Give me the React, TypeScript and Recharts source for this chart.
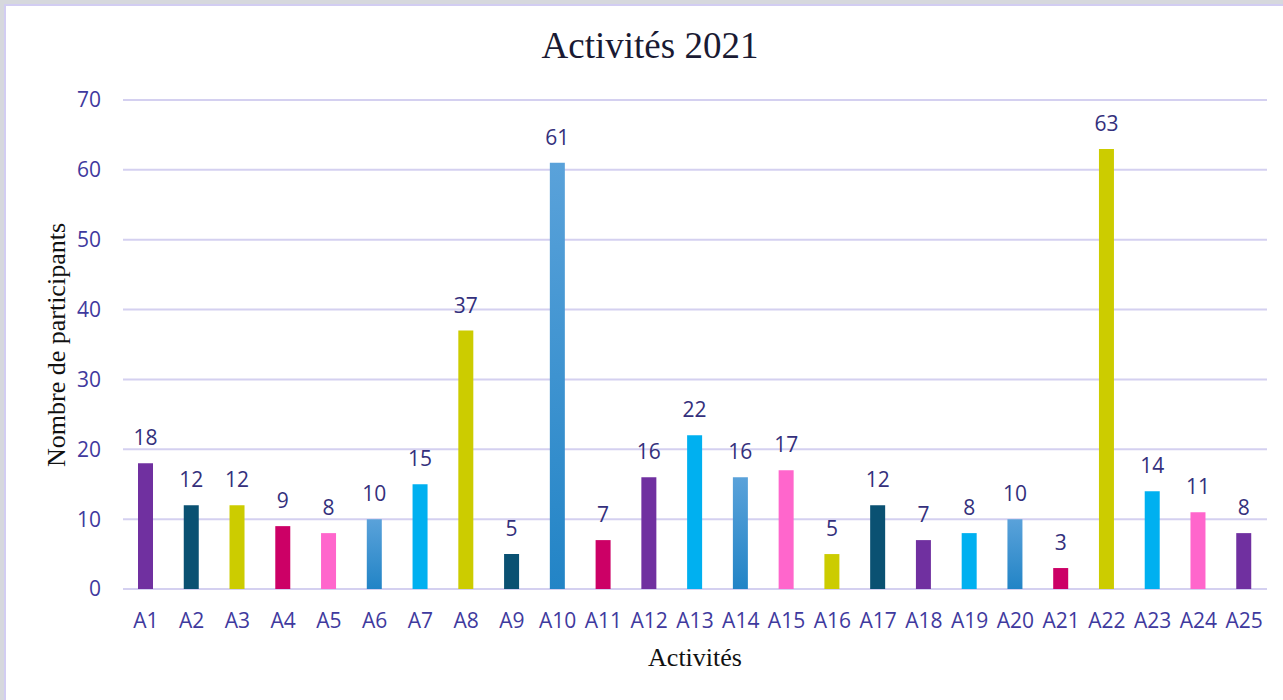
import React from "react";
import { BarChart, Bar, XAxis, YAxis, CartesianGrid, Cell, LabelList } from "recharts";

const categories = ["A1","A2","A3","A4","A5","A6","A7","A8","A9","A10","A11","A12","A13","A14","A15","A16","A17","A18","A19","A20","A21","A22","A23","A24","A25"];
const participants = [18,12,12,9,8,10,15,37,5,61,7,16,22,16,17,5,12,7,8,10,3,63,14,11,8];
const barColors = ["#7030a0","#0a5172","#cccc00","#cc0066","#ff66cc","url(#blueGrad)","#00b0f0","#cccc00","#0a5172","url(#blueGrad)","#cc0066","#7030a0","#00b0f0","url(#blueGrad)","#ff66cc","#cccc00","#0a5172","#7030a0","#00b0f0","url(#blueGrad)","#cc0066","#cccc00","#00b0f0","#ff66cc","#7030a0"];
const yTicks = [0,10,20,30,40,50,60,70];

const data = categories.map((c, i) => ({ name: c, value: participants[i] }));

export default function App() {
  return (
    <div style={{ position: "fixed", left: 0, top: 0, width: 1283, height: 700, background: "#d6d8dd", overflow: "hidden" }}>
      <div style={{ position: "absolute", left: 4, top: 4, right: 0, bottom: 0, background: "#ffffff", borderLeft: "2px solid #d2cdf2", borderTop: "2px solid #d2cdf2" }} />
      <div style={{ position: "absolute", left: 0, top: 0 }}>
        <BarChart width={1283} height={700} data={data} margin={{ top: 100, right: 16, bottom: 81, left: 63 }}>
          <defs>
            <linearGradient id="blueGrad" x1="0" y1="0" x2="0" y2="1">
              <stop offset="0%" stopColor="#5aa2da" />
              <stop offset="100%" stopColor="#2284c6" />
            </linearGradient>
          </defs>
          <CartesianGrid vertical={false} stroke="#d4d0f0" strokeWidth={2} />
          <XAxis dataKey="name" axisLine={false} tickLine={false} tickSize={0} tickMargin={24} height={30} interval={0}
            tick={{ fill: "#3f3a9e", fontSize: 21, fontFamily: "'Open Sans', sans-serif" }} />
          <YAxis domain={[0, 70]} ticks={yTicks} axisLine={false} tickLine={false} tickSize={0} tickMargin={22} width={60}
            tick={{ fill: "#3f3a9e", fontSize: 21, fontFamily: "'Open Sans', sans-serif" }} />
          <Bar dataKey="value" barSize={15} isAnimationActive={false}>
            {data.map((d, i) => (
              <Cell key={d.name} fill={barColors[i]} />
            ))}
            <LabelList dataKey="value" position="top" offset={18} fill="#34307c" fontSize={21} fontFamily="'Open Sans', sans-serif" />
          </Bar>
        </BarChart>
      </div>
      <div style={{ position: "absolute", left: 0, width: 1300, top: 24, textAlign: "center", fontFamily: "'Liberation Serif', 'DejaVu Serif', serif", fontSize: 37, color: "#1a1a33", lineHeight: "44px" }}>Activités 2021</div>
      <div style={{ position: "absolute", left: 595, width: 200, top: 642, textAlign: "center", fontFamily: "'Liberation Serif', serif", fontSize: 26, color: "#111111", lineHeight: "32px" }}>Activités</div>
      <div style={{ position: "absolute", left: 57 - 150, top: 345 - 16, width: 300, textAlign: "center", transform: "rotate(-90deg)", fontFamily: "'Liberation Serif', serif", fontSize: 26, color: "#111111", lineHeight: "32px" }}>Nombre de participants</div>
    </div>
  );
}
